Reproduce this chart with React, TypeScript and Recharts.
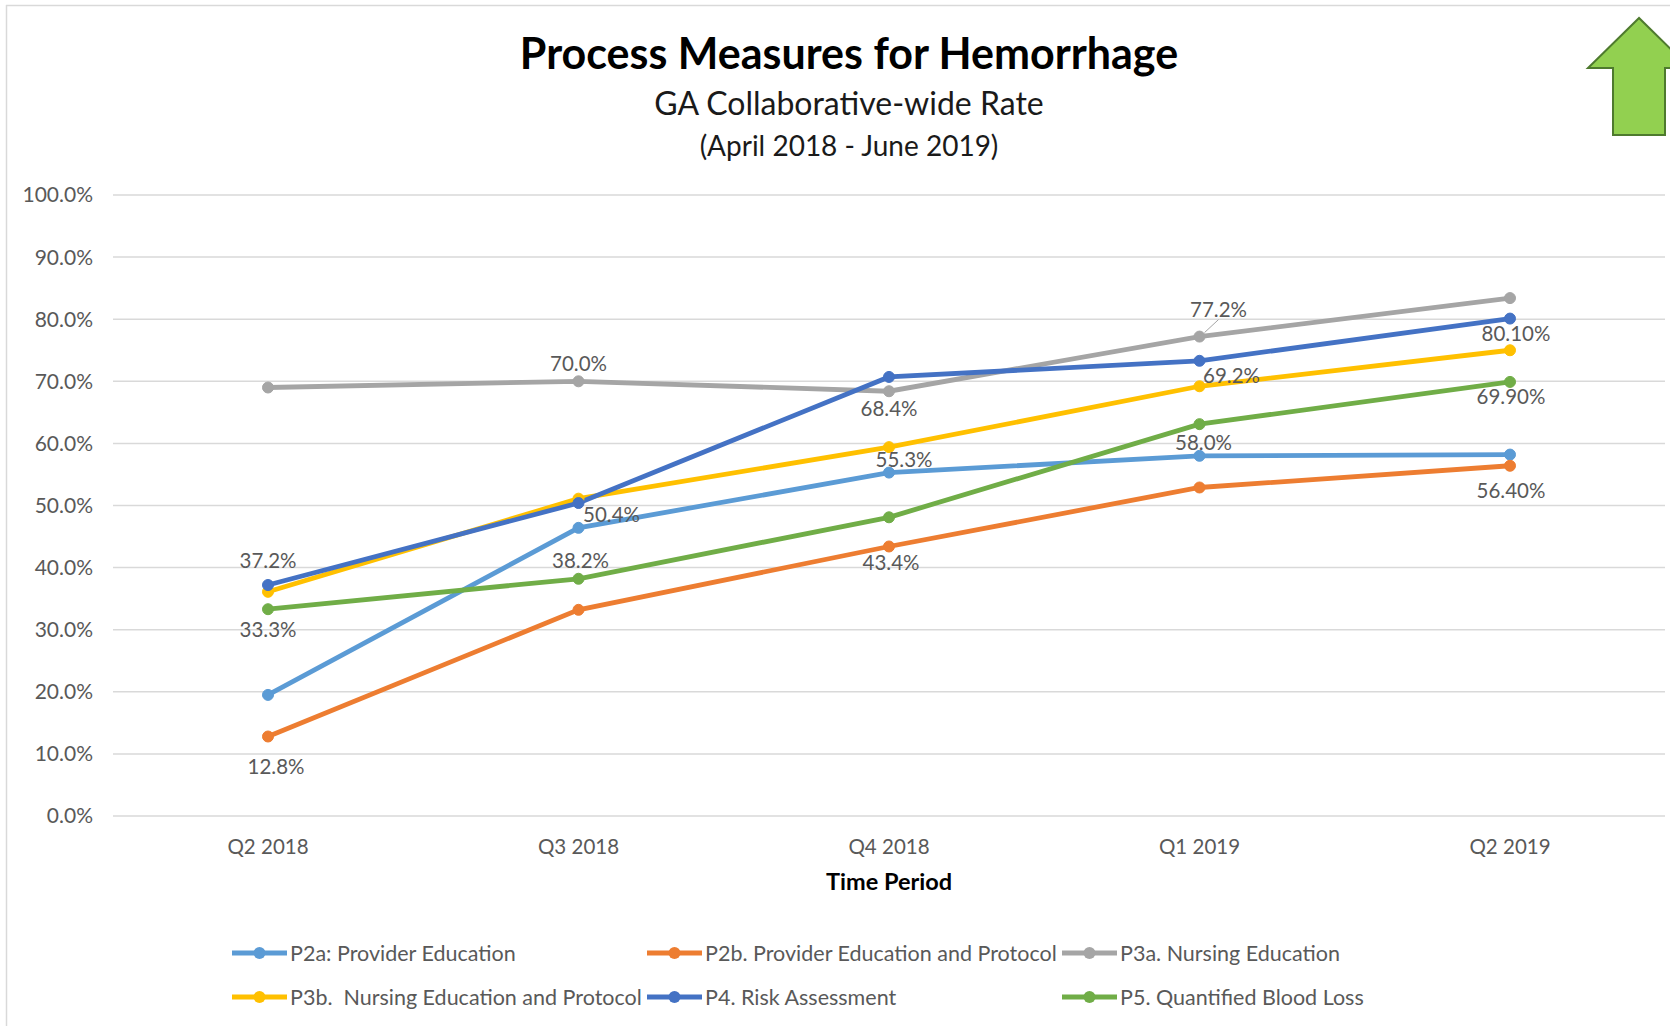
import React from 'react';
import { LineChart, Line, XAxis, YAxis, CartesianGrid, LabelList } from 'recharts';

const categories = ['Q2 2018', 'Q3 2018', 'Q4 2018', 'Q1 2019', 'Q2 2019'];
const p2aValues = [19.5, 46.4, 55.3, 58.0, 58.2];
const p2bValues = [12.8, 33.2, 43.4, 52.9, 56.4];
const p3aValues = [69.0, 70.0, 68.4, 77.2, 83.4];
const p3bValues = [36.1, 51.1, 59.4, 69.2, 75.0];
const p4Values = [37.2, 50.4, 70.7, 73.3, 80.1];
const p5Values = [33.3, 38.2, 48.1, 63.1, 69.9];

const p2aLabels = ['', '', '55.3%', '58.0%', ''];
const p2bLabels = ['12.8%', '', '43.4%', '', '56.40%'];
const p3aLabels = ['', '70.0%', '68.4%', '77.2%', ''];
const p3bLabels = ['', '', '', '69.2%', ''];
const p4Labels = ['37.2%', '50.4%', '', '', '80.10%'];
const p5Labels = ['33.3%', '38.2%', '', '', '69.90%'];

const yTicks = [0, 10, 20, 30, 40, 50, 60, 70, 80, 90, 100];

const FONT = 'Lato, "Open Sans", sans-serif';
const LABEL_COLOR = '#595959';

const data = categories.map((c, i) => ({
  name: c,
  p2a: p2aValues[i],
  p2b: p2bValues[i],
  p3a: p3aValues[i],
  p3b: p3bValues[i],
  p4: p4Values[i],
  p5: p5Values[i],
}));

type Series = {
  key: string;
  name: string;
  color: string;
  labels: string[];
  offsets: Record<number, [number, number]>;
  leader?: number;
};

const series: Series[] = [
  { key: 'p2a', name: 'P2a: Provider Education', color: '#5B9BD5', labels: p2aLabels, offsets: { 2: [15, -14], 3: [4, -14] } },
  { key: 'p2b', name: 'P2b. Provider Education and Protocol', color: '#ED7D31', labels: p2bLabels, offsets: { 0: [8, 29], 2: [2, 16], 4: [1, 24] } },
  { key: 'p3a', name: 'P3a. Nursing Education', color: '#A5A5A5', labels: p3aLabels, offsets: { 1: [0, -18], 2: [0, 17], 3: [19, -28] }, leader: 3 },
  { key: 'p3b', name: 'P3b.  Nursing Education and Protocol', color: '#FFC000', labels: p3bLabels, offsets: { 3: [32, -11] } },
  { key: 'p4', name: 'P4. Risk Assessment', color: '#4472C4', labels: p4Labels, offsets: { 0: [0, -25], 1: [33, 11], 4: [6, 14] } },
  { key: 'p5', name: 'P5. Quantified Blood Loss', color: '#70AD47', labels: p5Labels, offsets: { 0: [0, 20], 1: [2, -19], 4: [1, 14] } },
];

const legendSlots: [number, number][] = [
  [232, 953], [647, 953], [1062, 953],
  [232, 997], [647, 997], [1062, 997],
];

const makeLabel = (s: Series) => (props: any) => {
  const index = props.index;
  const px = props.x ?? props.viewBox?.x;
  const py = props.y ?? props.viewBox?.y;
  const t = s.labels[index];
  if (!t || px == null || py == null) return null;
  const [dx, dy] = s.offsets[index] || [0, -20];
  return (
    <g key={`${s.key}-lab-${index}`}>
      {s.leader === index ? (
        <line x1={px + 5} y1={py - 4} x2={px + dx} y2={py + dy + 11} stroke="#A5A5A5" strokeWidth={1} />
      ) : null}
      <text
        x={px + dx}
        y={py + dy}
        textAnchor="middle"
        dominantBaseline="central"
        fill={LABEL_COLOR}
        fontSize={20.5}
        fontFamily={FONT}
      >
        {t}
      </text>
    </g>
  );
};

export default function App() {
  return (
    <div style={{ position: 'absolute', left: 0, top: 0, width: 1670, height: 1026, background: '#fff', overflow: 'hidden' }}>
      <LineChart
        width={1670}
        height={1026}
        data={data}
        margin={{ top: 195, right: 5, left: 0, bottom: 150 }}
      >
        <CartesianGrid vertical={false} stroke="#D9D9D9" strokeWidth={1.5} />
        <XAxis
          dataKey="name"
          height={60}
          axisLine={false}
          tickLine={false}
          tickSize={0}
          tickMargin={23}
          padding={{ left: 155, right: 155 }}
          tick={{ fill: LABEL_COLOR, fontSize: 20.5, fontFamily: FONT }}
          interval={0}
        />
        <YAxis
          width={113}
          domain={[0, 100]}
          ticks={yTicks}
          axisLine={false}
          tickLine={false}
          tickSize={0}
          tickMargin={20}
          tickFormatter={(v: number) => `${v.toFixed(1)}%`}
          tick={{ fill: LABEL_COLOR, fontSize: 21, fontFamily: FONT }}
        />
        {series.map((s) => (
          <Line
            key={s.key}
            dataKey={s.key}
            name={s.name}
            stroke={s.color}
            strokeWidth={4.8}
            dot={{ r: 5.5, fill: s.color, stroke: s.color, strokeWidth: 1 }}
            activeDot={false}
            isAnimationActive={false}
          />
        ))}
        {series.map((s) => (
          <Line
            key={`${s.key}-labels`}
            dataKey={s.key}
            stroke="none"
            strokeWidth={0}
            dot={false}
            activeDot={false}
            legendType="none"
            isAnimationActive={false}
          >
            <LabelList dataKey={s.key} content={makeLabel(s)} />
          </Line>
        ))}
      </LineChart>
      <svg
        width={1670}
        height={1026}
        style={{ position: 'absolute', left: 0, top: 0, pointerEvents: 'none' }}
      >
        <line x1={6.5} y1={5} x2={6.5} y2={1026} stroke="#D9D9D9" strokeWidth={1.5} />
        <line x1={6} y1={5.5} x2={1670} y2={5.5} stroke="#D9D9D9" strokeWidth={1.5} />
        <text x={849} y={69} textAnchor="middle" fontSize={43} fontWeight={700} fontFamily={FONT} fill="#000">
          Process Measures for Hemorrhage
        </text>
        <text x={849} y={115} textAnchor="middle" fontSize={32} fontFamily={FONT} fill="#1a1a1a">
          GA Collaborative-wide Rate
        </text>
        <text x={849} y={156} textAnchor="middle" fontSize={28} fontFamily={FONT} fill="#1a1a1a">
          (April 2018 - June 2019)
        </text>
        <polygon
          points="1639,18 1588,68 1613,68 1613,135 1665,135 1665,68 1690,68"
          fill="#92D050"
          stroke="#4E7A2E"
          strokeWidth={2}
        />
        <text x={889} y={890} textAnchor="middle" fontSize={23.5} fontWeight={700} fontFamily={FONT} fill="#000">
          Time Period
        </text>
        {series.map((s, i) => {
          const [lx, ly] = legendSlots[i];
          return (
            <g key={`leg-${s.key}`}>
              <line x1={lx} y1={ly} x2={lx + 55} y2={ly} stroke={s.color} strokeWidth={5} />
              <circle cx={lx + 27.5} cy={ly} r={6} fill={s.color} />
              <text
                x={lx + 58}
                y={ly}
                dominantBaseline="central"
                fontSize={21.5}
                fontFamily={FONT}
                fill={LABEL_COLOR}
                style={{ whiteSpace: 'pre' }}
              >
                {s.name}
              </text>
            </g>
          );
        })}
      </svg>
    </div>
  );
}
